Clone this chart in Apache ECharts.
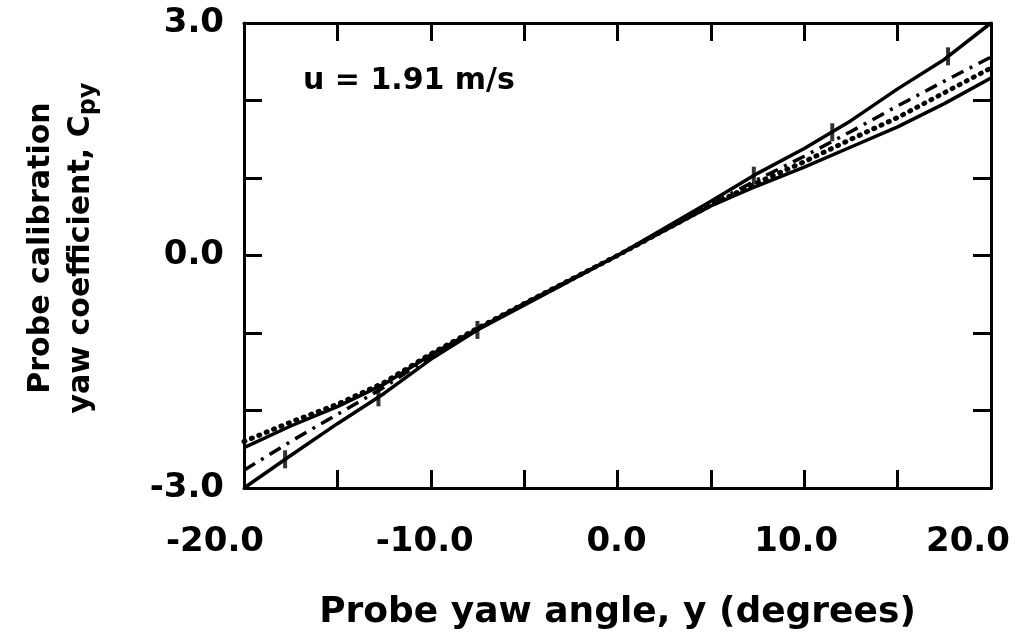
<!DOCTYPE html>
<html>
<head>
<meta charset="utf-8">
<script src="https://cdn.jsdelivr.net/npm/echarts@6/dist/echarts.min.js"></script>
<style>
html,body{margin:0;padding:0;background:#fff;}
#chart{width:1030px;height:638px;}
</style>
</head>
<body>
<div id="chart"></div>
<script>
// yaw angle (degrees) at which the curves are sampled
const yawAngles = [-20, -17.5, -15, -12.5, -10, -7.5, -5, 0, 5, 7.5, 10, 12.5, 15, 17.5, 20];
// the four calibration curves (Cpy)
const cpySolidSteep = [-3.00, -2.58, -2.17, -1.78, -1.34, -0.96, -0.64, 0, 0.70, 1.06, 1.38, 1.74, 2.15, 2.53, 3.00];
const cpyDashDot    = [-2.77, -2.40, -2.05, -1.70, -1.30, -0.95, -0.63, 0, 0.66, 0.98, 1.28, 1.60, 1.93, 2.25, 2.56];
const cpyDotted     = [-2.40, -2.15, -1.92, -1.64, -1.27, -0.94, -0.62, 0, 0.65, 0.94, 1.21, 1.50, 1.78, 2.10, 2.42];
const cpySolidFlat  = [-2.48, -2.20, -1.95, -1.66, -1.28, -0.95, -0.62, 0, 0.64, 0.90, 1.14, 1.40, 1.66, 1.96, 2.29];
// measured points (short vertical bars) on the steep curve
const markAngles = [-17.8, -12.8, -7.5, 7.3, 11.5, 17.7];
const markCpy    = [-2.63, -1.83, -0.96, 1.03, 1.59, 2.57];
// tick labels
const xTickLabels = ['-20.0', '-10.0', '0.0', '10.0', '20.0'];
const yTickLabels = ['-3.0', '0.0', '3.0'];
const annotation = 'u = 1.91 m/s';
const xTitle = 'Probe yaw angle, y (degrees)';
const yTitleLine1 = 'Probe calibration';
const yTitleLine2 = 'yaw coefficient, C';
const yTitleSub = 'py';

const FONT = '"DejaVu Sans", sans-serif';
const pairs = (xs, ys) => xs.map((x, i) => [x, ys[i]]);

const lblStyle = {fontSize: 34, fontWeight: 'bold', fontFamily: FONT, color: '#000'};
const xRich = {
  s0: Object.assign({}, lblStyle, {padding: [0, 58, 0, 0]}),
  s1: Object.assign({}, lblStyle, {padding: [0, 12, 0, 0]}),
  s2: Object.assign({}, lblStyle, {padding: [0, 2, 0, 0]}),
  s3: Object.assign({}, lblStyle, {padding: [0, 16, 0, 0]}),
  s4: Object.assign({}, lblStyle, {padding: [0, 46, 0, 0]})
};

const chart = echarts.init(document.getElementById('chart'), null, {renderer: 'canvas'});
const lineBase = {type: 'line', showSymbol: false, symbol: 'none', smooth: false, z: 3};
const axisLineStyle = {color: '#000', width: 3};
const tickStyle = {show: true, inside: true, length: 18, lineStyle: {color: '#000', width: 3}};

chart.setOption({
  backgroundColor: '#fff',
  animation: false,
  grid: {left: 244, right: 39, top: 23, bottom: 150, containLabel: false},
  xAxis: [
    {
      type: 'value', min: -20, max: 20, interval: 5, position: 'bottom',
      axisLine: {show: true, onZero: false, lineStyle: axisLineStyle},
      axisTick: tickStyle,
      splitLine: {show: false},
      axisLabel: {
        margin: 37, color: '#000', fontSize: 34, fontWeight: 'bold', fontFamily: FONT,
        formatter: function (v) {
          const i = xTickLabels.indexOf(v.toFixed(1));
          return i >= 0 ? '{s' + i + '|' + xTickLabels[i] + '}' : '';
        },
        rich: xRich
      },
      name: xTitle, nameLocation: 'middle', nameGap: 107,
      nameTextStyle: {color: '#000', fontSize: 36, fontWeight: 'bold', fontFamily: FONT}
    },
    {
      type: 'value', min: -20, max: 20, interval: 5, position: 'top',
      axisLine: {show: true, onZero: false, lineStyle: axisLineStyle},
      axisTick: tickStyle, axisLabel: {show: false}, splitLine: {show: false}
    }
  ],
  yAxis: [
    {
      type: 'value', min: -3, max: 3, interval: 1, position: 'left',
      axisLine: {show: true, onZero: false, lineStyle: axisLineStyle},
      axisTick: tickStyle,
      splitLine: {show: false},
      axisLabel: {
        margin: 20, color: '#000', fontSize: 34, fontWeight: 'bold', fontFamily: FONT,
        formatter: function (v) {
          const s = v.toFixed(1);
          return yTickLabels.indexOf(s) >= 0 ? s : '';
        }
      }
    },
    {
      type: 'value', min: -3, max: 3, interval: 1, position: 'right',
      axisLine: {show: true, onZero: false, lineStyle: axisLineStyle},
      axisTick: tickStyle, axisLabel: {show: false}, splitLine: {show: false}
    }
  ],
  graphic: [
    {
      type: 'text', left: 303, top: 66, z: 10,
      style: {text: annotation, fontSize: 30, fontWeight: 'bold', fontFamily: FONT, fill: '#000'}
    },
    {
      type: 'text', x: 61, y: 248, rotation: Math.PI / 2, z: 10,
      style: {
        text: yTitleLine1 + '\n{m|' + yTitleLine2 + '}{sub|' + yTitleSub + '}',
        fontSize: 30, fontWeight: 'bold', fontFamily: FONT, fill: '#000', lineHeight: 40,
        align: 'center', verticalAlign: 'middle',
        rich: {
          m: {fontSize: 30, fontWeight: 'bold', fontFamily: FONT, fill: '#000', lineHeight: 40, verticalAlign: 'middle'},
          sub: {fontSize: 24, fontWeight: 'bold', fontFamily: FONT, fill: '#000', lineHeight: 34, verticalAlign: 'bottom'}
        }
      }
    }
  ],
  series: [
    Object.assign({}, lineBase, {
      name: 'steep', data: pairs(yawAngles, cpySolidSteep),
      lineStyle: {color: '#000', width: 3.5}
    }),
    Object.assign({}, lineBase, {
      name: 'dashdot', data: pairs(yawAngles, cpyDashDot),
      lineStyle: {color: '#000', width: 3.5, type: [13, 7, 3, 7]}
    }),
    Object.assign({}, lineBase, {
      name: 'dotted', data: pairs(yawAngles, cpyDotted),
      lineStyle: {color: '#000', width: 5, type: [1, 7], cap: 'round'}
    }),
    Object.assign({}, lineBase, {
      name: 'flat', data: pairs(yawAngles, cpySolidFlat),
      lineStyle: {color: '#000', width: 3.5}
    }),
    {
      type: 'scatter', name: 'marks', data: pairs(markAngles, markCpy),
      symbol: 'rect', symbolSize: [4, 18], itemStyle: {color: '#000'}, z: 4
    }
  ]
});
</script>
</body>
</html>
